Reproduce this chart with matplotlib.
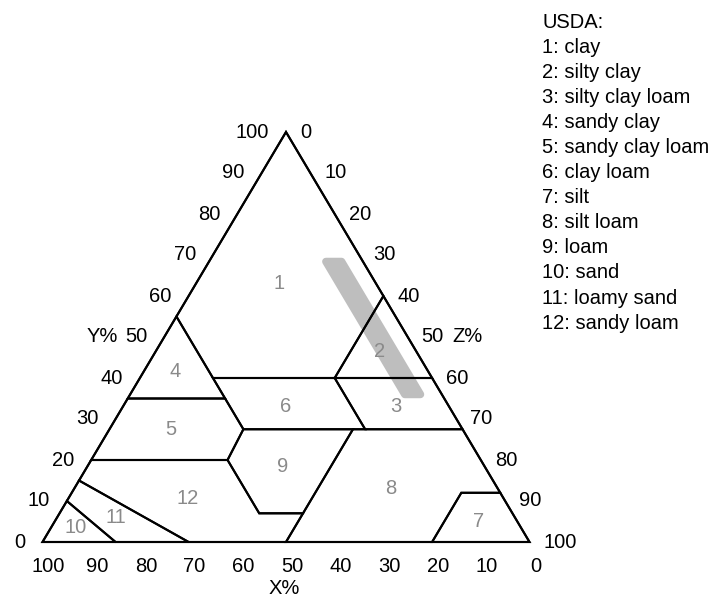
"""
USDA soil texture triangle (X% = sand, Y% = clay, Z% = silt).
"""

import matplotlib
matplotlib.use("Agg")
import matplotlib.pyplot as plt
from matplotlib.patches import Polygon

plt.rcParams["font.family"] = ["Liberation Sans", "DejaVu Sans"]

# ─────────────────────────────────────────────
# DATA
# ─────────────────────────────────────────────
# class polygons, vertices given as (clay %, silt %); sand = 100 - clay - silt
CLASS_POLYS = [
    [(100, 0), (55, 0), (40, 15), (40, 40), (60, 40)],                       # 1 clay
    [(60, 40), (40, 40), (40, 60)],                                          # 2 silty clay
    [(40, 60), (40, 40), (27.5, 52.5), (27.5, 72.5)],                        # 3 silty clay loam
    [(55, 0), (35, 0), (35, 20)],                                            # 4 sandy clay
    [(35, 0), (20, 0), (20, 28), (27.5, 27.5), (35, 20)],                    # 5 sandy clay loam
    [(40, 15), (40, 40), (27.5, 52.5), (27.5, 27.5), (35, 20)],              # 6 clay loam
    [(12, 88), (0, 100), (0, 80), (12, 80)],                                 # 7 silt
    [(27.5, 50), (27.5, 72.5), (12, 88), (12, 80), (0, 80), (0, 50), (7, 50)],  # 8 silt loam
    [(27.5, 27.5), (27.5, 50), (7, 50), (7, 41), (20, 28)],                  # 9 loam
    [(10, 0), (0, 0), (0, 15)],                                              # 10 sand
    [(15, 0), (10, 0), (0, 15), (0, 30)],                                    # 11 loamy sand
    [(20, 0), (15, 0), (0, 30), (0, 50), (7, 50), (7, 41), (20, 28)],        # 12 sandy loam
]
CLASS_NAMES = ["clay", "silty clay", "silty clay loam", "sandy clay",
               "sandy clay loam", "clay loam", "silt", "silt loam", "loam",
               "sand", "loamy sand", "sandy loam"]
# label spots (clay %, silt %)
LABEL_POS = [(63, 17), (46.5, 46), (33, 56), (41.5, 6.5), (27.5, 12.5),
             (33, 33.5), (5, 87), (13, 65), (18.5, 40), (3.5, 5),
             (6, 12), (10.5, 24.5)]

# grey band: sand range and clay range (%)
BAND_SAND = (4.4, 7.6)
BAND_CLAY = (36.0, 68.4)

TICKS = list(range(0, 101, 10))

# ─────────────────────────────────────────────
# LAYOUT (pixels of a 718x599 canvas)
# ─────────────────────────────────────────────
W, H, DPI = 718, 599, 100
X0, X1 = 42.5, 529.5        # base of the triangle
Y_BASE, Y_TOP = 542, 132     # base and apex rows
FS = 14.5
LINE_W = 1.5
LABEL_GREY = "#8a8a8a"


def tern(clay, silt):
    """(clay %, silt %) -> axes data coords."""
    return (silt + clay / 2.0) / 100.0, clay / 100.0


fig = plt.figure(figsize=(W / DPI, H / DPI), dpi=DPI)
ax = fig.add_axes([X0 / W, (H - Y_BASE) / H, (X1 - X0) / W, (Y_BASE - Y_TOP) / H])
ax.set_xlim(0, 1)
ax.set_ylim(0, 1)
ax.axis("off")

# band (under the outlines)
s_lo, s_hi = BAND_SAND
c_lo, c_hi = BAND_CLAY
band = [tern(c_lo, 100 - c_lo - s_lo), tern(c_lo, 100 - c_lo - s_hi),
        tern(c_hi, 100 - c_hi - s_hi), tern(c_hi, 100 - c_hi - s_lo)]
ax.add_patch(Polygon(band, closed=True, facecolor="#bebebe", edgecolor="#bebebe",
                     linewidth=5.5, joinstyle="round", zorder=1))

# class outlines
for poly in CLASS_POLYS:
    pts = [tern(c, s) for c, s in poly]
    ax.add_patch(Polygon(pts, closed=True, fill=False, edgecolor="black",
                         linewidth=LINE_W, joinstyle="miter", zorder=2, clip_on=False))

# outer triangle
outer = [tern(0, 0), tern(0, 100), tern(100, 0)]
ax.add_patch(Polygon(outer, closed=True, fill=False, edgecolor="black",
                     linewidth=LINE_W, zorder=3, clip_on=False))

# class numbers
for i, (c, s) in enumerate(LABEL_POS):
    x, y = tern(c, s)
    ax.text(x, y, str(i + 1), color=LABEL_GREY, fontsize=FS,
            ha="center", va="center", zorder=4)

# tick labels
for t in TICKS:
    # bottom (sand): 100 at left
    x, y = tern(0, 100 - t)
    ax.annotate(str(t), (x, y), xytext=(6, -25), textcoords="offset pixels",
                ha="center", va="center", fontsize=FS, annotation_clip=False)
    # left (clay): 0 at bottom
    x, y = tern(t, 0)
    ax.annotate(str(t), (x, y), xytext=(-17, 0), textcoords="offset pixels",
                ha="right", va="center", fontsize=FS, annotation_clip=False)
    # right (silt): 0 at top
    x, y = tern(100 - t, t)
    ax.annotate(str(t), (x, y), xytext=(14, 0), textcoords="offset pixels",
                ha="left", va="center", fontsize=FS, annotation_clip=False)

# axis titles
ax.annotate("X%", tern(0, 50), xytext=(-2, -47), textcoords="offset pixels",
            ha="center", va="center", fontsize=FS, annotation_clip=False)
ax.annotate("Y%", tern(50, 0), xytext=(-46, 0), textcoords="offset pixels",
            ha="right", va="center", fontsize=FS, annotation_clip=False)
ax.annotate("Z%", tern(50, 50), xytext=(45, 0), textcoords="offset pixels",
            ha="left", va="center", fontsize=FS, annotation_clip=False)

# legend text
LEG_X, LEG_Y, LEG_STEP = 542, 22, 25.1
legend_lines = ["USDA:"] + [f"{i + 1}: {n}" for i, n in enumerate(CLASS_NAMES)]
for k, line in enumerate(legend_lines):
    fig.text(LEG_X / W, 1 - (LEG_Y + k * LEG_STEP) / H, line, fontsize=FS,
             ha="left", va="center")

fig.savefig("out.png", dpi=DPI)
